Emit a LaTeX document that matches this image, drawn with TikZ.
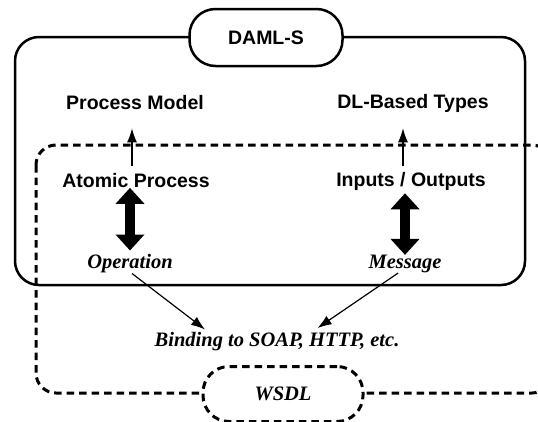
\documentclass[tikz,border=0pt]{standalone}
\usepackage{fontspec}
\setmainfont{Liberation Serif}
\setsansfont{Liberation Sans}
\usetikzlibrary{arrows.meta}
\begin{document}
\begin{tikzpicture}[x=1pt,y=-1pt,
  sanslbl/.style={font=\sffamily\bfseries\fontsize{19.5}{22}\selectfont, inner sep=0pt},
  seriflbl/.style={font=\rmfamily\bfseries\itshape\fontsize{20.5}{23}\selectfont, inner sep=0pt},
  solidbox/.style={line width=2.5pt, rounded corners=24pt},
  dashbox/.style={line width=3pt, dash pattern=on 7.5pt off 5pt, rounded corners=20pt},
  pillbox/.style={draw, fill=white, rounded corners=26pt, minimum width=153pt, minimum height=57pt, line width=2.5pt},
  dashpill/.style={draw, fill=white, rounded corners=26pt, minimum width=160pt, minimum height=55pt, line width=3pt, dash pattern=on 7.5pt off 5pt},
  thinarrow/.style={line width=1.2pt, -{Latex[length=14pt,width=10pt]}},
  fatarrow/.style={line width=10pt, {Triangle[length=16pt,width=28pt]}-{Triangle[length=16pt,width=28pt]}}
]
\useasboundingbox (0,0) rectangle (538,421);
\clip (0,0) rectangle (538,421);
% outer frames
\draw[solidbox] (15,37) rectangle (525,285);
\draw[dashbox] (36,145) rectangle (552,393);
% pills
\node[pillbox, sanslbl, inner sep=0pt] (daml) at (266,37.5) {DAML-S};
\node[dashpill, seriflbl, inner sep=0pt] (wsdl) at (283,394) {WSDL};
% labels
\node[sanslbl] (pm) at (135,103) {Process Model};
\node[sanslbl] (dl) at (413,103) {DL-Based Types};
\node[sanslbl] (ap) at (136,180.5) {Atomic Process};
\node[sanslbl] (io) at (411,181) {Inputs / Outputs};
\node[seriflbl] (op) at (130,264) {Operation};
\node[seriflbl] (msg) at (405,264) {Message};
\node[seriflbl] (bind) at (277,342) {Binding to SOAP, HTTP, etc.};
% thin upward arrows
\draw[thinarrow, shorten <=7pt, shorten >=18pt] ([xshift=-4pt]ap.north) -- ([xshift=-3pt]pm.south);
\draw[thinarrow, shorten <=6pt, shorten >=16pt] ([xshift=-8pt]io.north) -- ([xshift=-10pt]dl.south);
% thick double arrows
\draw[fatarrow, shorten >=4pt] ([xshift=-6pt]ap.south) -- (op.north);
\draw[fatarrow, shorten <=3pt] ([xshift=-6pt]io.south) -- (msg.north);
% binding arrows
\draw[thinarrow, shorten >=5pt] ([xshift=2pt]op.south) -- ([xshift=-68pt]bind.north);
\draw[thinarrow, shorten >=8pt] ([xshift=-7pt]msg.south) -- ([xshift=34pt]bind.north);
\end{tikzpicture}
\end{document}
